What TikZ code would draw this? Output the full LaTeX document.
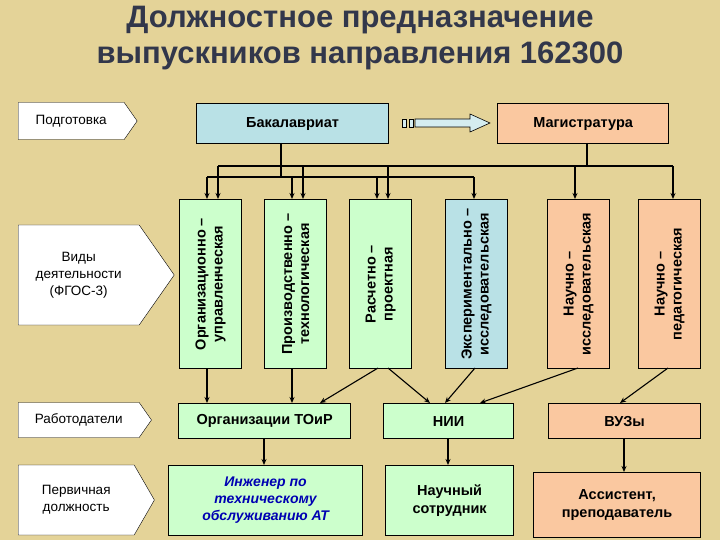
\documentclass[tikz,border=0pt]{standalone}
\usepackage{fontspec}
\setmainfont{Liberation Sans}
\usetikzlibrary{shapes.symbols,arrows.meta}
\definecolor{bg}{RGB}{228,211,152}
\definecolor{gr}{RGB}{204,255,204}
\definecolor{bl}{RGB}{185,225,230}
\definecolor{og}{RGB}{250,200,160}
\definecolor{tt}{RGB}{50,55,75}
\begin{document}
\begin{tikzpicture}[x=1pt,y=-1pt,
 box/.style={draw,line width=1.2pt,inner sep=0pt,anchor=north west,align=center,font=\bfseries\fontsize{14.5}{18}\selectfont},
 lab/.style={draw,fill=white,signal,signal to=east,signal pointer angle=110,anchor=west,align=center,inner xsep=3pt,font=\fontsize{13.5}{17}\selectfont},
 ar/.style={-{Stealth[length=6pt,width=5pt]},line width=1.1pt},
 bus/.style={line width=1.8pt}]
\fill[bg] (0,0) rectangle (720,540);
\useasboundingbox (0,0) rectangle (720,540);
\node[text=tt,align=center,font=\bfseries\fontsize{31}{36}\selectfont] (title) at (360,38) {Должностное предназначение\\выпускников направления 162300};
% left labels
\node[lab,minimum height=37pt,text width=100pt] (l1) at (18,121) {Подготовка};
\node[lab,minimum height=100pt,text width=115pt] (l2) at (18,275) {Виды\\деятельности\\(ФГОС-3)};
\node[lab,minimum height=35pt,text width=115pt] (l3) at (18,420) {Работодатели};
\node[lab,minimum height=70pt,text width=110pt,signal pointer angle=120] (l4) at (18,500) {Первичная\\должность};
% top
\node[box,fill=bl,minimum width=192pt,minimum height=40pt] (bak) at (196,103) {Бакалавриат};
\node[box,fill=og,minimum width=171pt,minimum height=40pt] (mag) at (497,103) {Магистратура};
\draw[fill=bl!60,line width=0.6pt] (415,119) -- (470,119) -- (470,114) -- (490,123) -- (470,132) -- (470,127) -- (415,127) -- cycle;
\draw[fill=bl!60,line width=0.6pt] (402,119) rectangle (406,127) (409,119) rectangle (413,127);
% vertical boxes
\foreach \n/\x/\c/\t in {v1/179/gr/{Организационно –\\управленческая},v2/264/gr/{Производственно –\\технологическая},v3/349/gr/{Расчетно –\\проектная},v4/445/bl/{Экспериментально –\\исследовательская},v5/547/og/{Научно –\\исследовательская},v6/638/og/{Научно –\\педагогическая}}{
 \node[box,fill=\c,minimum width=62pt,minimum height=169pt] (\n) at (\x,199) {};
 \node[rotate=90,align=center,font=\bfseries\fontsize{14.5}{17}\selectfont] (\n t) at (\n.center) {\t};
}
% buses
\draw[bus] (281,143) -- (281,177);
\draw[bus] (207,177) -- (474,177);
\draw[bus] (587,143) -- (587,166);
\draw[bus] (218,166) -- (673,166);
\foreach \x in {207,292,377,474}{\draw[ar] (\x,177) -- (\x,199);}
\foreach \x in {218,303,388,575,673}{\draw[ar,line width=1.6pt] (\x,166) -- (\x,199);}
% employers
\node[box,fill=gr,minimum width=172pt,minimum height=35pt] (toir) at (178,403) {Организации ТОиР};
\node[box,fill=gr,minimum width=130pt,minimum height=35pt] (nii) at (383,403) {НИИ};
\node[box,fill=og,minimum width=152pt,minimum height=35pt] (vuz) at (548,403) {ВУЗы};
% positions
\node[box,fill=gr,minimum width=194pt,minimum height=70pt,text=blue!70!black,font=\bfseries\itshape\fontsize{14}{17}\selectfont] (ing) at (168,465) {Инженер по\\техническому\\обслуживанию АТ};
\node[box,fill=gr,minimum width=128pt,minimum height=70pt] (nauch) at (385,465) {Научный\\сотрудник};
\node[box,fill=og,minimum width=167pt,minimum height=65pt] (asst) at (533,472) {Ассистент,\\преподаватель};
% arrows down
\draw[ar] (207,368) -- (207,403);
\draw[ar] (292,368) -- (292,403);
\draw[ar] (378,368) -- (320,403);
\draw[ar] (388,368) -- (430,403);
\draw[ar] (475,368) -- (445,403);
\draw[ar] (578,368) -- (480,403);
\draw[ar] (668,368) -- (620,403);
\draw[ar] (264,438) -- (264,465);
\draw[ar] (448,438) -- (448,465);
\draw[ar] (624,438) -- (624,472);
\end{tikzpicture}
\end{document}
